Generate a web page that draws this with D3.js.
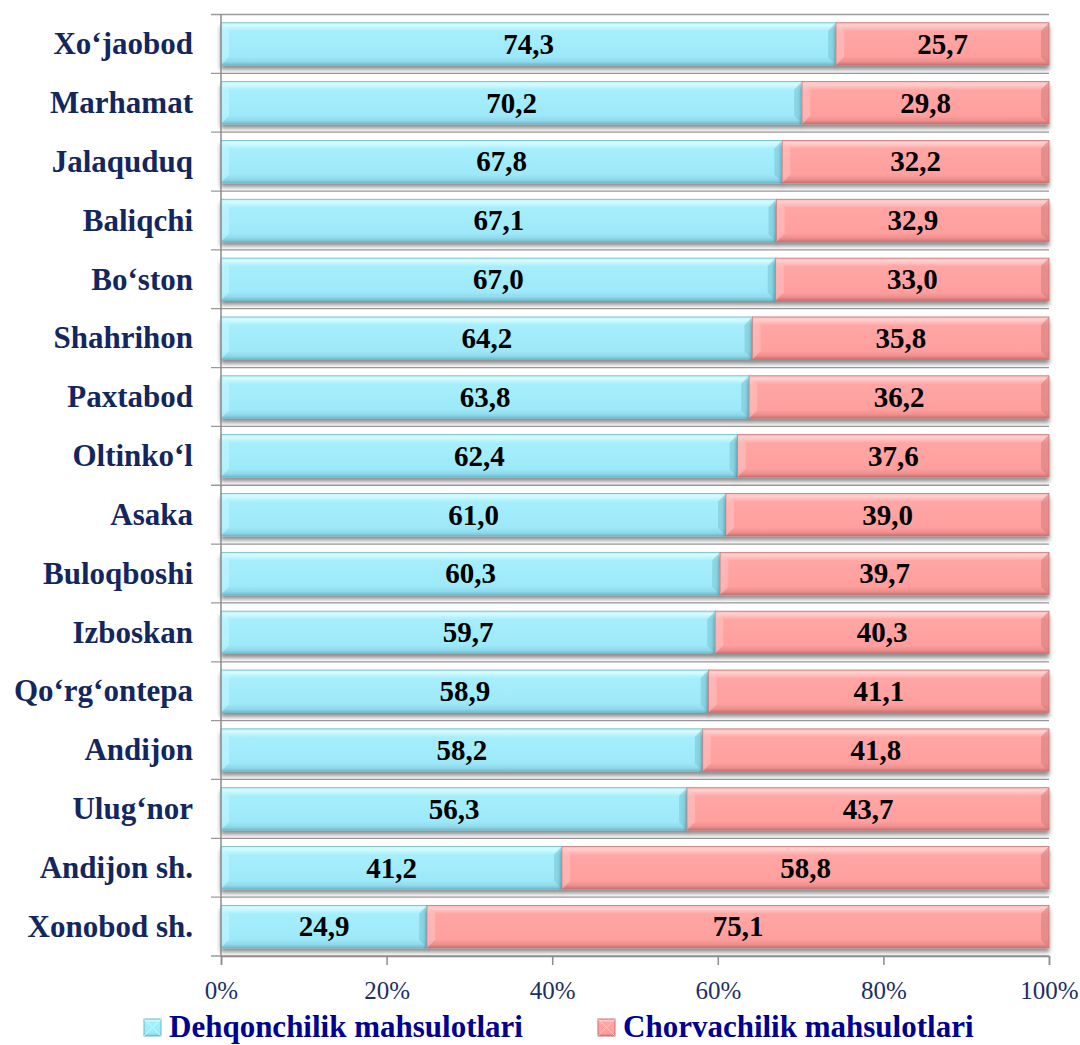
<!DOCTYPE html>
<html><head><meta charset="utf-8">
<script src="https://cdn.jsdelivr.net/npm/d3@7"></script>
<style>body{margin:0;background:#fff}svg{display:block}
svg text{font-family:"Liberation Serif","Times New Roman","DejaVu Serif",serif}</style>
</head><body>
<svg id="c" width="1080" height="1045"></svg>
<script>
const categories = ["Xo‘jaobod","Marhamat","Jalaquduq","Baliqchi","Bo‘ston","Shahrihon","Paxtabod","Oltinko‘l","Asaka","Buloqboshi","Izboskan","Qo‘rg‘ontepa","Andijon","Ulug‘nor","Andijon sh.","Xonobod sh."];
const dehqon = [74.3,70.2,67.8,67.1,67.0,64.2,63.8,62.4,61.0,60.3,59.7,58.9,58.2,56.3,41.2,24.9];
const chorva = [25.7,29.8,32.2,32.9,33.0,35.8,36.2,37.6,39.0,39.7,40.3,41.1,41.8,43.7,58.8,75.1];
const seriesNames = ["Dehqonchilik mahsulotlari","Chorvachilik mahsulotlari"];
const xTicks = [0,0.2,0.4,0.6,0.8,1];

const svg = d3.select("#c");
const L = 221, R = 1049, T = 14.5, B = 956;
const x = d3.scaleLinear().domain([0,1]).range([L,R]);
const y = d3.scaleBand().domain(categories).range([T,B]).paddingInner(0.28).paddingOuter(0.14);

const defs = svg.append("defs");
function grad(id, stops){
  const g = defs.append("linearGradient").attr("id",id).attr("x1",0).attr("y1",0).attr("x2",0).attr("y2",1);
  stops.forEach(s=>g.append("stop").attr("offset",s[0]).attr("stop-color",s[1]));
}
grad("gc",[[0,"#b6f3fd"],[0.06,"#d8fbff"],[0.2,"#a6eefc"],[0.8,"#9de9f9"],[0.92,"#8fd9ea"],[1,"#6fbdd0"]]);
grad("gp",[[0,"#ffb6b4"],[0.06,"#ffd2d0"],[0.2,"#ffa6a4"],[0.8,"#ff9f9e"],[0.92,"#ee8e8d"],[1,"#c87070"]]);
const f = defs.append("filter").attr("id","sh").attr("x","-5%").attr("y","-20%").attr("width","110%").attr("height","160%");
f.append("feGaussianBlur").attr("in","SourceAlpha").attr("stdDeviation",2.2);
f.append("feOffset").attr("dx",0).attr("dy",4).attr("result","o");
f.append("feComponentTransfer").append("feFuncA").attr("type","linear").attr("slope",0.45);
const m = f.append("feMerge"); m.append("feMergeNode"); m.append("feMergeNode").attr("in","SourceGraphic");

// gridlines at band boundaries
const step = y.step();
const bounds = d3.range(categories.length+1).map(i=>T+i*step);
svg.append("g").selectAll("line").data(bounds).join("line")
  .attr("x1",L-10).attr("x2",R).attr("y1",d=>d).attr("y2",d=>d)
  .attr("stroke","#9a9a9a").attr("stroke-width",1.3);

// bars
const segs = [];
categories.forEach((c,i)=>{
  segs.push({c, x0:0, x1:dehqon[i]/100, v:dehqon[i], s:0});
  segs.push({c, x0:dehqon[i]/100, x1:(dehqon[i]+chorva[i])/100, v:chorva[i], s:1});
});
const gb = svg.append("g");
const sg = gb.selectAll("g").data(segs).join("g").attr("filter","url(#sh)");
sg.append("rect").attr("x",d=>x(d.x0)).attr("y",d=>y(d.c)).attr("width",d=>x(d.x1)-x(d.x0)).attr("height",y.bandwidth())
  .attr("fill",d=>d.s?"url(#gp)":"url(#gc)").attr("stroke",d=>d.s?"#c77373":"#6cb8cb").attr("stroke-width",0.8);
sg.append("path").attr("d",d=>{const x0=x(d.x0),y0=y(d.c),h=y.bandwidth(),b=8;
  return `M${x0},${y0}L${x0+b},${y0+b}L${x0+b},${y0+h-b}L${x0},${y0+h}Z`;})
  .attr("fill",d=>d.s?"#ffc4c2":"#c4f7ff").attr("opacity",0.55);
sg.append("path").attr("d",d=>{const x1=x(d.x1),y0=y(d.c),h=y.bandwidth(),b=8;
  return `M${x1},${y0}L${x1-b},${y0+b}L${x1-b},${y0+h-b}L${x1},${y0+h}Z`;})
  .attr("fill",d=>d.s?"#d57a7a":"#72c2d4").attr("opacity",0.55);

// value labels
svg.append("g").selectAll("text").data(segs).join("text")
  .attr("x",d=>(x(d.x0)+x(d.x1))/2).attr("y",d=>y(d.c)+y.bandwidth()/2)
  .attr("dy","0.34em").attr("text-anchor","middle")
  .style("font-weight","bold").style("font-size","29px")
  .attr("fill","#000").text(d=>d.v.toFixed(1).replace(".",","));

// y axis
svg.append("line").attr("x1",L).attr("x2",L).attr("y1",T).attr("y2",B).attr("stroke","#8c8c8c").attr("stroke-width",1.5);
svg.append("g").selectAll("text").data(categories).join("text")
  .attr("x",193).attr("y",d=>y(d)+y.bandwidth()/2).attr("dy","0.33em").attr("text-anchor","end")
  .style("font-weight","bold").style("font-size","31px")
  .attr("fill","#13275e").text(d=>d);

// x axis
const xa = svg.append("g").attr("transform",`translate(0,${B})`)
  .call(d3.axisBottom(x).tickValues(xTicks).tickFormat(d3.format(".0%")).tickSize(9).tickPadding(16));
xa.select(".domain").attr("stroke","#8c8c8c").attr("stroke-width",1.5);
xa.selectAll(".tick line").attr("stroke","#8c8c8c").attr("stroke-width",1.5);
xa.selectAll("text").style("font-size","25px").attr("fill","#1c2f66");

// legend
const leg = [{n:seriesNames[0],x:144,s:0},{n:seriesNames[1],x:598,s:1}];
const lg = svg.append("g").selectAll("g").data(leg).join("g").attr("transform",d=>`translate(${d.x},1019)`);
lg.append("rect").attr("width",17).attr("height",17).attr("fill",d=>d.s?"url(#gp)":"url(#gc)")
  .attr("stroke",d=>d.s?"#c77373":"#6cb8cb");
lg.append("path").attr("d","M0,0L17,17M17,0L0,17").attr("stroke",d=>d.s?"#ffd0ce":"#d8fbff").attr("stroke-width",1).attr("opacity",0.8);
lg.append("text").attr("x",25).attr("y",18)
  .style("font-weight","bold").style("font-size","31px")
  .attr("fill","#000090").text(d=>d.n);
</script>
</body></html>
